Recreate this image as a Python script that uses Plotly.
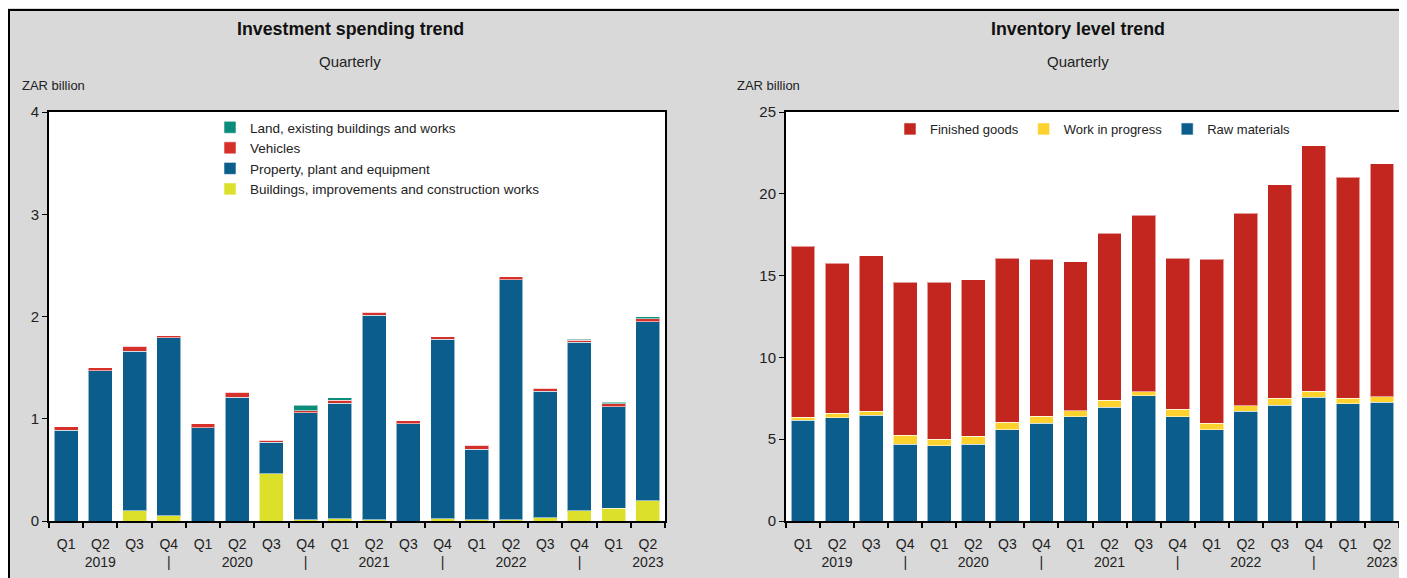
import plotly.graph_objects as go

quarters = ["Q1", "Q2", "Q3", "Q4"] * 4 + ["Q1", "Q2"]
year_row = ["", "2019", "", "|", "", "2020", "", "|", "", "2021", "", "|",
            "", "2022", "", "|", "", "2023"]

# Investment spending (ZAR billion)
buildings = [0.0, 0.0, 0.10, 0.05, 0.0, 0.0, 0.46, 0.01, 0.02, 0.01, 0.0, 0.02,
             0.01, 0.01, 0.03, 0.10, 0.125, 0.20]
ppe = [0.89, 1.47, 1.56, 1.74, 0.91, 1.21, 0.31, 1.05, 1.13, 2.00, 0.95, 1.76,
       0.69, 2.35, 1.24, 1.65, 0.99, 1.75]
vehicles = [0.03, 0.03, 0.05, 0.02, 0.04, 0.05, 0.02, 0.02, 0.03, 0.03, 0.03, 0.02,
            0.04, 0.03, 0.03, 0.02, 0.03, 0.03]
land = [0, 0, 0, 0, 0, 0, 0, 0.05, 0.025, 0, 0, 0, 0, 0, 0, 0.01, 0.015, 0.02]

# Inventory level (ZAR billion)
raw_materials = [6.15, 6.3, 6.45, 4.7, 4.6, 4.7, 5.57, 5.96, 6.37, 6.94, 7.65, 6.37,
                 5.57, 6.7, 7.08, 7.55, 7.16, 7.25]
work_in_progress = [0.2, 0.28, 0.27, 0.55, 0.4, 0.47, 0.47, 0.45, 0.36, 0.43, 0.25, 0.45,
                    0.39, 0.36, 0.43, 0.37, 0.35, 0.34]
finished_goods = [10.45, 9.17, 9.48, 9.35, 9.6, 9.58, 10.01, 9.59, 9.12, 10.23, 10.8, 9.23,
                  10.04, 11.74, 13.04, 15.03, 13.49, 14.26]

x = list(range(len(quarters)))
ticktext = [f"{q}<br>{y if y else ' '}" for q, y in zip(quarters, year_row)]

FONT = "Liberation Sans, Arial, sans-serif"
edge = "rgba(255,255,255,0.55)"
W, H = 1399, 570  # page body keeps its 8px margin

fig = go.Figure()

left = [("Buildings, improvements and construction works", buildings, "#DCE02B"),
        ("Property, plant and equipment", ppe, "#0B5D8B"),
        ("Vehicles", vehicles, "#D6302A"),
        ("Land, existing buildings and works", land, "#0C8C7A")]
for name, vals, col in left:
    fig.add_trace(go.Bar(x=x, y=vals, name=name, marker=dict(color=col, line=dict(color=edge, width=1)),
                         xaxis="x", yaxis="y", legend="legend"))

right = [("Raw materials", raw_materials, "#0B5D8B"),
         ("Work in progress", work_in_progress, "#FDD22F"),
         ("Finished goods", finished_goods, "#C3251F")]
for name, vals, col in right:
    fig.add_trace(go.Bar(x=x, y=vals, name=name, marker=dict(color=col, line=dict(color=edge, width=1)),
                         xaxis="x2", yaxis="y2", legend="legend2"))

xcommon = dict(tickmode="array", tickvals=x, ticktext=ticktext, ticks="", range=[-0.5, 17.5],
               showline=True, linecolor="black", linewidth=2, mirror=True, showgrid=False,
               zeroline=False, automargin=False, tickfont=dict(size=14, color="#222"),
               ticklabelstandoff=9,
               minor=dict(tickmode="linear", tick0=-0.5, dtick=1, ticks="outside",
                          ticklen=5, tickcolor="black", tickwidth=1.5))
ycommon = dict(showline=True, linecolor="black", linewidth=2, mirror=True, showgrid=False,
               zeroline=False, ticks="outside", ticklen=5, tickcolor="black", automargin=False,
               tickfont=dict(size=15, color="#222"))

ydom = [1 - 513 / H, 1 - 104 / H]
fig.update_layout(
    width=W, height=H,
    template="none",
    barmode="stack", bargap=0.3,
    margin=dict(l=0, r=0, t=0, b=0),
    paper_bgcolor="#d9d9d9", plot_bgcolor="white",
    font=dict(family=FONT, color="#222"),
    xaxis=dict(domain=[41 / W, 657 / W], anchor="y", **xcommon),
    yaxis=dict(domain=ydom, anchor="x", range=[0, 4], tickvals=[0, 1, 2, 3, 4], **ycommon),
    xaxis2=dict(domain=[778 / W, 1391 / W], anchor="y2", **xcommon),
    yaxis2=dict(domain=ydom, anchor="x2", range=[0, 25], tickvals=[0, 5, 10, 15, 20, 25], **ycommon),
    legend=dict(x=202 / W, y=1 - 104 / H, xanchor="left", yanchor="top", traceorder="reversed",
                bgcolor="rgba(0,0,0,0)", font=dict(size=13.5), tracegroupgap=0),
    legend2=dict(x=882 / W, y=1 - 106 / H, xanchor="left", yanchor="top", orientation="h",
                 traceorder="reversed", bgcolor="rgba(0,0,0,0)", font=dict(size=13)),
    showlegend=True,
)

titles = [(342 / W, "Investment spending trend"), (1070 / W, "Inventory level trend")]
for xp, t in titles:
    fig.add_annotation(x=xp, y=1 - 21 / H, xref="paper", yref="paper", text=f"<b>{t}</b>",
                       xanchor="center", yanchor="middle",
                       showarrow=False, font=dict(size=17.8, color="#111"))
    fig.add_annotation(x=xp, y=1 - 54 / H, xref="paper", yref="paper", text="Quarterly",
                       xanchor="center", yanchor="middle",
                       showarrow=False, font=dict(size=15, color="#222"))
for xp in [12 / W, 727 / W]:
    fig.add_annotation(x=xp, y=1 - 78 / H, xref="paper", yref="paper", text="ZAR billion",
                       xanchor="left", yanchor="middle", showarrow=False,
                       font=dict(size=13, color="#222"))

# frame: black rules on top and left
fig.add_shape(type="line", xref="paper", yref="paper", x0=0, x1=1, y0=1 - 2 / H, y1=1 - 2 / H,
              line=dict(color="black", width=2))
fig.add_shape(type="line", xref="paper", yref="paper", x0=1 / W, x1=1 / W, y0=0, y1=1 - 2 / H,
              line=dict(color="black", width=2))

fig.write_html("out.html")
